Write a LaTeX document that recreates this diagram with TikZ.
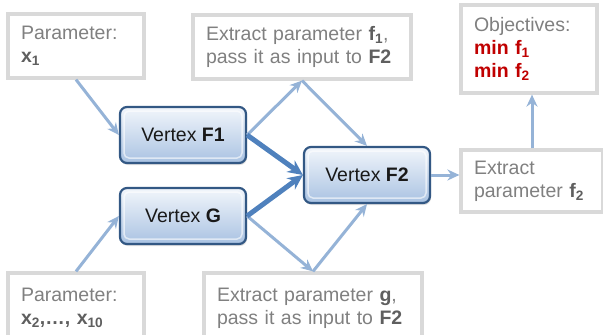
\documentclass[tikz,border=0pt]{standalone}
\usepackage{fontspec}
\setmainfont{Liberation Sans}
\usepackage{tikz}
\usetikzlibrary{arrows.meta, shadows}

\definecolor{boxgray}{HTML}{D9D9D9}
\definecolor{textgray}{HTML}{808080}
\definecolor{boldgray}{HTML}{5F5F5F}
\definecolor{vborder}{HTML}{335884}
\definecolor{vtop}{HTML}{F2F6FB}
\definecolor{vbottom}{HTML}{A9C2E2}
\definecolor{thinblue}{HTML}{95B3D7}
\definecolor{thickblue}{HTML}{4F81BD}
\definecolor{objred}{HTML}{C00000}

\newcommand{\pb}[1]{\textbf{\color{boldgray}#1}}

\tikzstyle{info} = [rectangle, draw=boxgray, line width=3.2pt,
fill=white, align=left, inner xsep=13pt, inner ysep=0pt,
text=textgray, font=\fontsize{19.5}{23}\selectfont]
\tikzstyle{vertex} = [rectangle, rounded corners=7pt,
draw=vborder, line width=2.2pt, top color=vtop,
bottom color=vbottom, minimum width=126pt, minimum height=56pt,
text=black!90, font=\fontsize{19.5}{23}\selectfont,
drop shadow={opacity=0.25, shadow xshift=1pt, shadow yshift=-2pt},
path picture={\draw[white, opacity=0.6, line width=1.5pt,
rounded corners=5pt]
([shift={(4pt,-4pt)}]path picture bounding box.north west)
rectangle ([shift={(-4pt,5pt)}]path picture bounding box.south east);}]
\tikzstyle{arrow} = [thinblue, line width=3pt,
-{Stealth[length=12pt,width=11pt]}]
\tikzstyle{strong} = [thickblue, line width=5pt,
-{Stealth[length=15pt,width=14pt]}]

\begin{document}
\begin{tikzpicture}[x=1pt, y=-1pt]

\clip (0,0) rectangle (603,335);

% parameter boxes
\node (x1box) [info, text width=110pt, minimum height=64pt]
at (76,46) {Parameter:\\ \pb{x\textsubscript{1}}};
\node (x2box) [info, text width=110pt, minimum height=70pt]
at (76,308) {Parameter:\\ \pb{x\textsubscript{2},\ldots, x\textsubscript{10}}};

% vertices
\node (F1) [vertex] at (183,135) {Vertex \textbf{F1}};
\node (G) [vertex] at (183,216) {Vertex \textbf{G}};
\node (F2) [vertex] at (367,175) {Vertex \textbf{F2}};

% extracted parameters
\node (f1box) [info, text width=192pt, minimum height=64pt]
at (302,47) {Extract parameter \pb{f\textsubscript{1}},\\
pass it as input to \pb{F2}};
\node (gbox) [info, text width=192pt, minimum height=70pt]
at (313,308) {Extract parameter \pb{g},\\
pass it as input to \pb{F2}};
\node (f2box) [info, text width=116pt, minimum height=62pt]
at (532,181) {Extract\\ parameter \pb{f\textsubscript{2}}};

% objectives
\node (obj) [info, text width=110pt, minimum height=88pt]
at (529,49) {Objectives:\\
\textcolor{objred}{\textbf{min f\textsubscript{1}}}\\
\textcolor{objred}{\textbf{min f\textsubscript{2}}}};

\draw [arrow] (x1box.south) -- (F1.west);
\draw [arrow] (x2box.north) -- (G.west);
\draw [arrow] (F1.east) -- (f1box.south);
\draw [arrow] (f1box.south) -- (F2.north);
\draw [arrow] (G.east) -- (gbox.north);
\draw [arrow] (gbox.north) -- (F2.south);
\draw [strong] (F1.east) -- (F2.west);
\draw [strong] (G.east) -- (F2.west);
\draw [arrow] (F2.east) -- (F2.east -| f2box.west);
\draw [arrow] (f2box.north) -- (f2box.north |- obj.south);

\end{tikzpicture}
\end{document}
